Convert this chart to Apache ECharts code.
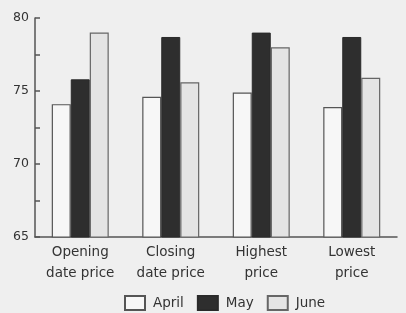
<!DOCTYPE html>
<html>
<head>
<meta charset="utf-8">
<script src="https://cdn.jsdelivr.net/npm/echarts@6/dist/echarts.min.js"></script>
<style>
html,body{margin:0;padding:0;background:#efefef;}
#c{width:406px;height:313px;}
</style>
</head>
<body>
<div id="c"></div>
<script>
const categories = ['Opening\ndate price', 'Closing\ndate price', 'Highest\nprice', 'Lowest\nprice'];
const april = [74.1, 74.6, 74.9, 73.9];
const may = [75.8, 78.7, 79.0, 78.7];
const june = [79.0, 75.6, 78.0, 75.9];
const seriesNames = ['April', 'May', 'June'];
const yMin = 65, yMax = 80, yInterval = 5;

const chart = echarts.init(document.getElementById('c'), null, {renderer: 'canvas'});
const font = '"DejaVu Sans", sans-serif';
chart.setOption({
  backgroundColor: '#efefef',
  animation: false,
  textStyle: {fontFamily: font},
  grid: {left: 35, right: 9, top: 18, bottom: 76},
  legend: {
    data: seriesNames,
    top: 290,
    left: 119,
    icon: 'rect',
    itemWidth: 20,
    itemHeight: 14,
    itemGap: 13,
    textStyle: {fontSize: 13.5, color: '#333', fontFamily: font, padding: [0, 0, 0, 3]}
  },
  xAxis: {
    type: 'category',
    data: categories,
    axisLine: {lineStyle: {color: '#555', width: 1.5}},
    axisTick: {show: false},
    axisLabel: {fontSize: 13.5, color: '#333', lineHeight: 21, margin: 5, fontFamily: font}
  },
  yAxis: {
    type: 'value',
    min: yMin, max: yMax, interval: yInterval,
    axisLine: {show: true, lineStyle: {color: '#555', width: 1.5}},
    axisTick: {show: true, inside: true, length: 5, lineStyle: {color: '#555', width: 1.5}},
    minorTick: {show: true, splitNumber: 2, length: 5, lineStyle: {color: '#555', width: 1.5}},
    splitLine: {show: false},
    axisLabel: {fontSize: 12.5, color: '#333', margin: 6, fontFamily: font}
  },
  series: [
    {name: 'April', type: 'bar', data: april, barWidth: 19, barGap: '0%',
     itemStyle: {color: '#f7f7f7', borderColor: '#555', borderWidth: 1.2}},
    {name: 'May', type: 'bar', data: may, barWidth: 19, barGap: '0%',
     itemStyle: {color: '#2e2e2e', borderColor: '#2a2a2a', borderWidth: 1}},
    {name: 'June', type: 'bar', data: june, barWidth: 19, barGap: '0%',
     itemStyle: {color: '#e4e4e4', borderColor: '#666', borderWidth: 1.2}}
  ]
});
</script>
</body>
</html>
